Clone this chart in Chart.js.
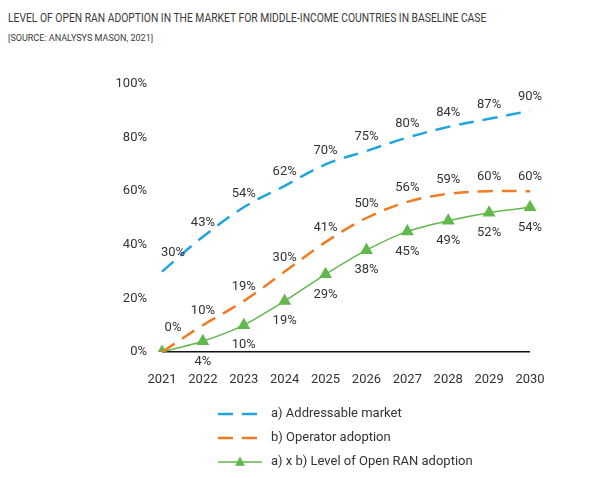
<!DOCTYPE html>
<html>
<head>
<meta charset="utf-8">
<script src="https://cdn.jsdelivr.net/npm/chart.js@4.4.1/dist/chart.umd.min.js"></script>
<style>
  html, body { margin: 0; padding: 0; background: #fff; }
  #wrap { position: relative; width: 600px; height: 478px; }
  #title { position: absolute; left: 8px; top: 11px; font: 400 12px Roboto, sans-serif; color: #3a3a3a; white-space: nowrap; transform: scaleX(0.86); transform-origin: left top; }
  #source { position: absolute; left: 8px; top: 32px; font: 9.5px Roboto, sans-serif; color: #3a3a3a; white-space: nowrap; transform: scaleX(0.95); transform-origin: left top; }
  canvas { position: absolute; left: 0; top: 0; }
</style>
</head>
<body>
<div id="wrap">
  <div id="title">LEVEL OF OPEN RAN ADOPTION IN THE MARKET FOR MIDDLE-INCOME COUNTRIES IN BASELINE CASE</div>
  <div id="source">[SOURCE: ANALYSYS MASON, 2021]</div>
  <canvas id="chart" width="600" height="478"></canvas>
</div>
<script>
// Dados do gráfico
const years = ['2021', '2022', '2023', '2024', '2025', '2026', '2027', '2028', '2029', '2030'];
const addressableMarket = [30, 43, 54, 62, 70, 75, 80, 84, 87, 90];
const operatorAdoption = [0, 10, 19, 30, 41, 50, 56, 59, 60, 60];
const openRanAdoption = [0, 4, 10, 19, 29, 38, 45, 49, 52, 54];
const yTicks = [0, 20, 40, 60, 80, 100];

const seriesNames = ['a) Addressable market', 'b) Operator adoption', 'a) x b) Level of Open RAN adoption'];

const textColor = '#333333';
const fontFamily = 'Roboto, sans-serif';

// Deslocamento dos rótulos (dx, dy) por série; null = sem rótulo
const labelShift = [
    [[11, -19]],
    [[11, -24]],
    [null]
];
const defaultShift = [[0, -14], [0, -14], [0, 20]];

// Plugin para rótulos de valor
const valueLabels = {
    id: 'valueLabels',
    afterDatasetsDraw(chart) {
        const ctx = chart.ctx;
        ctx.save();
        ctx.font = '13px ' + fontFamily;
        ctx.fillStyle = textColor;
        ctx.textAlign = 'center';
        ctx.textBaseline = 'middle';
        chart.data.datasets.forEach((ds, di) => {
            const meta = chart.getDatasetMeta(di);
            meta.data.forEach((pt, i) => {
                let shift = labelShift[di][i];
                if (shift === null) return;
                if (shift === undefined) shift = defaultShift[di];
                ctx.fillText(ds.data[i] + '%', pt.x + shift[0], pt.y + shift[1]);
            });
        });
        ctx.restore();
    }
};

// Legenda desenhada à mão
const customLegend = {
    id: 'customLegend',
    afterDraw(chart) {
        const ctx = chart.ctx;
        const x0 = 218, x1 = 262, rows = [414, 438, 462];
        ctx.save();
        chart.data.datasets.forEach((ds, di) => {
            const y = rows[di];
            ctx.strokeStyle = ds.borderColor;
            ctx.lineWidth = ds.borderWidth;
            ctx.setLineDash(ds.borderDash || []);
            ctx.beginPath();
            ctx.moveTo(x0, y);
            ctx.lineTo(x1, y);
            ctx.stroke();
            ctx.setLineDash([]);
            if (ds.pointStyle === 'triangle') {
                const r = 5, cx = (x0 + x1) / 2;
                ctx.fillStyle = ds.pointBackgroundColor;
                ctx.beginPath();
                ctx.moveTo(cx, y - r * 1.1);
                ctx.lineTo(cx + r, y + r * 0.75);
                ctx.lineTo(cx - r, y + r * 0.75);
                ctx.closePath();
                ctx.fill();
            }
            ctx.font = '13px ' + fontFamily;
            ctx.fillStyle = textColor;
            ctx.textBaseline = 'middle';
            ctx.fillText(ds.label, 271, y);
        });
        ctx.restore();
    }
};

window.addEventListener('DOMContentLoaded', function() {
    const ctx = document.getElementById('chart').getContext('2d');
    new Chart(ctx, {
        type: 'line',
        data: {
            labels: years,
            datasets: [
                {
                    label: seriesNames[0],
                    data: addressableMarket,
                    borderColor: '#1ea5e0',
                    borderWidth: 2.5,
                    borderDash: [15, 9],
                    pointRadius: 0,
                    tension: 0.35
                },
                {
                    label: seriesNames[1],
                    data: operatorAdoption,
                    borderColor: '#f07b22',
                    borderWidth: 2.5,
                    borderDash: [15, 9],
                    pointRadius: 0,
                    tension: 0.35
                },
                {
                    label: seriesNames[2],
                    data: openRanAdoption,
                    borderColor: '#62b84c',
                    backgroundColor: '#62b84c',
                    pointBackgroundColor: '#62b84c',
                    pointBorderColor: '#62b84c',
                    borderWidth: 1.5,
                    pointStyle: 'triangle',
                    pointRadius: 6,
                    tension: 0.25
                }
            ]
        },
        options: {
            responsive: false,
            animation: false,
            layout: { padding: { top: 84, right: 70, bottom: 0, left: 0 } },
            plugins: {
                legend: { display: false },
                tooltip: { enabled: false }
            },
            scales: {
                x: {
                    offset: false,
                    grid: { display: false },
                    border: { display: false },
                    ticks: { color: textColor, font: { family: fontFamily, size: 13 }, padding: 12, maxRotation: 0 },
                    afterFit(scale) { scale.height = 126; }
                },
                y: {
                    min: 0,
                    max: 100,
                    afterBuildTicks(scale) { scale.ticks = yTicks.map(v => ({ value: v })); },
                    grid: {
                        drawTicks: false,
                        color: c => (c.tick && c.tick.value === 0 ? '#111111' : 'rgba(0,0,0,0)'),
                        lineWidth: 1.5
                    },
                    border: { display: false },
                    ticks: {
                        color: textColor,
                        font: { family: fontFamily, size: 13 },
                        padding: 15,
                        callback: v => v + '%'
                    },
                    afterFit(scale) { scale.width = 162; }
                }
            }
        },
        plugins: [valueLabels, customLegend]
    });
});
</script>
</body>
</html>
